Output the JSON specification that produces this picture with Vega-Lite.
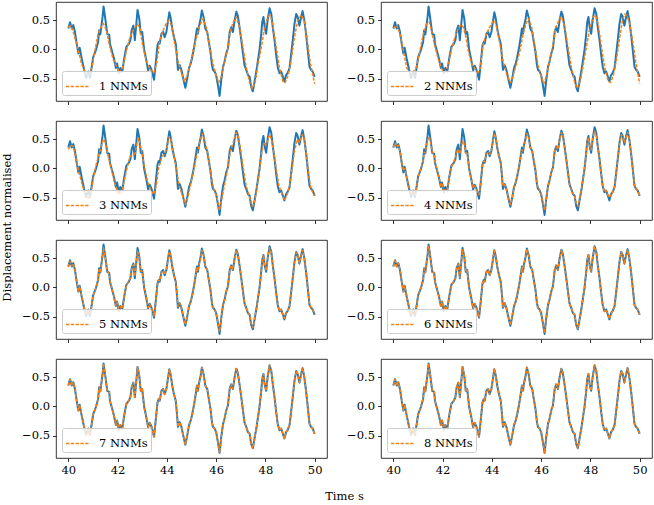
{
  "$schema": "https://vega.github.io/schema/vega-lite/v6.json",
  "background": "white",
  "padding": {"left": 0, "top": 1, "right": 0, "bottom": 0},
  "bounds": "flush",
  "columns": 2,
  "spacing": {"row": 20, "column": 54},
  "datasets": {
    "truth": [
      {"t":40.00,"v":0.36},{"t":40.07,"v":0.47},{"t":40.14,"v":0.36},{"t":40.20,"v":0.42},{"t":40.27,"v":0.30},{"t":40.34,"v":0.10},{"t":40.41,"v":-0.07},{"t":40.46,"v":0.03},{"t":40.54,"v":-0.15},{"t":40.64,"v":-0.35},{"t":40.72,"v":-0.49},{"t":40.81,"v":-0.38},{"t":40.88,"v":-0.49},{"t":40.95,"v":-0.30},{"t":41.01,"v":-0.13},{"t":41.12,"v":-0.01},{"t":41.21,"v":0.13},{"t":41.25,"v":0.33},{"t":41.30,"v":0.26},{"t":41.39,"v":0.56},{"t":41.43,"v":0.74},{"t":41.50,"v":0.53},{"t":41.58,"v":0.27},{"t":41.66,"v":0.25},{"t":41.69,"v":0.10},{"t":41.76,"v":-0.01},{"t":41.85,"v":-0.15},{"t":41.93,"v":-0.32},{"t":41.98,"v":-0.24},{"t":42.05,"v":-0.41},{"t":42.11,"v":-0.32},{"t":42.19,"v":-0.38},{"t":42.27,"v":-0.15},{"t":42.36,"v":0.05},{"t":42.46,"v":0.10},{"t":42.52,"v":0.16},{"t":42.57,"v":0.33},{"t":42.64,"v":0.41},{"t":42.70,"v":0.16},{"t":42.77,"v":0.49},{"t":42.81,"v":0.68},{"t":42.88,"v":0.53},{"t":42.94,"v":0.27},{"t":43.00,"v":0.30},{"t":43.08,"v":-0.01},{"t":43.15,"v":-0.15},{"t":43.24,"v":-0.36},{"t":43.30,"v":-0.28},{"t":43.37,"v":-0.34},{"t":43.48,"v":-0.52},{"t":43.55,"v":-0.23},{"t":43.62,"v":0.07},{"t":43.67,"v":0.13},{"t":43.71,"v":0.10},{"t":43.78,"v":0.27},{"t":43.85,"v":0.30},{"t":43.91,"v":0.21},{"t":43.98,"v":0.30},{"t":44.05,"v":0.50},{"t":44.10,"v":0.64},{"t":44.15,"v":0.55},{"t":44.23,"v":0.33},{"t":44.29,"v":0.21},{"t":44.36,"v":0.10},{"t":44.41,"v":-0.13},{"t":44.45,"v":-0.35},{"t":44.52,"v":-0.27},{"t":44.59,"v":-0.35},{"t":44.66,"v":-0.49},{"t":44.75,"v":-0.66},{"t":44.83,"v":-0.49},{"t":44.90,"v":-0.32},{"t":44.97,"v":-0.24},{"t":45.02,"v":-0.15},{"t":45.10,"v":0.02},{"t":45.17,"v":0.21},{"t":45.22,"v":0.36},{"t":45.26,"v":0.27},{"t":45.30,"v":0.39},{"t":45.37,"v":0.53},{"t":45.42,"v":0.67},{"t":45.49,"v":0.56},{"t":45.56,"v":0.36},{"t":45.64,"v":0.30},{"t":45.69,"v":0.16},{"t":45.77,"v":-0.04},{"t":45.83,"v":-0.27},{"t":45.87,"v":-0.35},{"t":45.94,"v":-0.38},{"t":46.00,"v":-0.44},{"t":46.07,"v":-0.61},{"t":46.14,"v":-0.80},{"t":46.21,"v":-0.52},{"t":46.28,"v":-0.30},{"t":46.34,"v":-0.21},{"t":46.41,"v":-0.07},{"t":46.48,"v":0.02},{"t":46.55,"v":0.30},{"t":46.61,"v":0.38},{"t":46.68,"v":0.30},{"t":46.75,"v":0.50},{"t":46.82,"v":0.65},{"t":46.88,"v":0.58},{"t":46.95,"v":0.38},{"t":47.02,"v":0.16},{"t":47.09,"v":-0.07},{"t":47.15,"v":-0.27},{"t":47.22,"v":-0.35},{"t":47.29,"v":-0.44},{"t":47.36,"v":-0.47},{"t":47.42,"v":-0.64},{"t":47.49,"v":-0.72},{"t":47.56,"v":-0.55},{"t":47.63,"v":-0.38},{"t":47.69,"v":-0.21},{"t":47.76,"v":-0.01},{"t":47.83,"v":0.27},{"t":47.87,"v":0.47},{"t":47.92,"v":0.56},{"t":47.97,"v":0.38},{"t":48.03,"v":0.27},{"t":48.09,"v":0.50},{"t":48.17,"v":0.71},{"t":48.24,"v":0.61},{"t":48.30,"v":0.38},{"t":48.37,"v":0.16},{"t":48.44,"v":-0.10},{"t":48.50,"v":-0.30},{"t":48.57,"v":-0.41},{"t":48.64,"v":-0.38},{"t":48.71,"v":-0.47},{"t":48.77,"v":-0.55},{"t":48.84,"v":-0.44},{"t":48.91,"v":-0.40},{"t":48.98,"v":-0.32},{"t":49.04,"v":-0.10},{"t":49.11,"v":0.16},{"t":49.18,"v":0.44},{"t":49.25,"v":0.61},{"t":49.31,"v":0.56},{"t":49.38,"v":0.41},{"t":49.45,"v":0.56},{"t":49.51,"v":0.66},{"t":49.58,"v":0.50},{"t":49.65,"v":0.27},{"t":49.72,"v":-0.01},{"t":49.79,"v":-0.30},{"t":49.85,"v":-0.35},{"t":49.92,"v":-0.38},{"t":50.00,"v":-0.47}
    ],
    "p1": [
      {"t":40.00,"v":0.38},{"t":40.10,"v":0.41},{"t":40.20,"v":0.30},{"t":40.34,"v":0.09},{"t":40.54,"v":-0.25},{"t":40.68,"v":-0.40},{"t":40.81,"v":-0.45},{"t":40.95,"v":-0.32},{"t":41.08,"v":-0.02},{"t":41.21,"v":0.27},{"t":41.35,"v":0.41},{"t":41.42,"v":0.45},{"t":41.55,"v":0.33},{"t":41.66,"v":0.09},{"t":41.82,"v":-0.17},{"t":41.98,"v":-0.31},{"t":42.09,"v":-0.40},{"t":42.22,"v":-0.29},{"t":42.36,"v":-0.02},{"t":42.50,"v":0.21},{"t":42.67,"v":0.36},{"t":42.80,"v":0.44},{"t":42.91,"v":0.36},{"t":43.01,"v":0.09},{"t":43.15,"v":-0.17},{"t":43.28,"v":-0.31},{"t":43.37,"v":-0.37},{"t":43.47,"v":-0.40},{"t":43.58,"v":-0.25},{"t":43.71,"v":0.15},{"t":43.85,"v":0.33},{"t":43.98,"v":0.45},{"t":44.08,"v":0.50},{"t":44.19,"v":0.41},{"t":44.32,"v":0.09},{"t":44.45,"v":-0.20},{"t":44.59,"v":-0.40},{"t":44.72,"v":-0.55},{"t":44.86,"v":-0.40},{"t":44.99,"v":-0.20},{"t":45.06,"v":-0.02},{"t":45.20,"v":0.21},{"t":45.33,"v":0.41},{"t":45.47,"v":0.53},{"t":45.60,"v":0.38},{"t":45.74,"v":0.03},{"t":45.87,"v":-0.25},{"t":46.01,"v":-0.46},{"t":46.11,"v":-0.57},{"t":46.21,"v":-0.46},{"t":46.34,"v":-0.20},{"t":46.48,"v":0.03},{"t":46.57,"v":0.30},{"t":46.68,"v":0.46},{"t":46.82,"v":0.56},{"t":46.95,"v":0.38},{"t":47.09,"v":0.03},{"t":47.22,"v":-0.31},{"t":47.36,"v":-0.57},{"t":47.47,"v":-0.67},{"t":47.59,"v":-0.55},{"t":47.69,"v":-0.28},{"t":47.83,"v":0.03},{"t":47.96,"v":0.36},{"t":48.10,"v":0.56},{"t":48.19,"v":0.59},{"t":48.29,"v":0.45},{"t":48.44,"v":0.03},{"t":48.57,"v":-0.31},{"t":48.71,"v":-0.55},{"t":48.80,"v":-0.57},{"t":48.91,"v":-0.46},{"t":49.04,"v":-0.20},{"t":49.18,"v":0.21},{"t":49.31,"v":0.50},{"t":49.45,"v":0.59},{"t":49.58,"v":0.50},{"t":49.72,"v":0.09},{"t":49.82,"v":-0.23},{"t":49.92,"v":-0.43},{"t":50.00,"v":-0.59}
    ],
    "p2": [
      {"t":40.00,"v":0.36},{"t":40.14,"v":0.42},{"t":40.27,"v":0.27},{"t":40.41,"v":-0.02},{"t":40.54,"v":-0.31},{"t":40.68,"v":-0.42},{"t":40.81,"v":-0.45},{"t":40.95,"v":-0.28},{"t":41.08,"v":-0.02},{"t":41.22,"v":0.27},{"t":41.35,"v":0.44},{"t":41.46,"v":0.47},{"t":41.55,"v":0.33},{"t":41.66,"v":0.10},{"t":41.82,"v":-0.16},{"t":41.96,"v":-0.33},{"t":42.09,"v":-0.39},{"t":42.23,"v":-0.28},{"t":42.36,"v":0.01},{"t":42.50,"v":0.21},{"t":42.63,"v":0.36},{"t":42.74,"v":0.42},{"t":42.84,"v":0.39},{"t":42.95,"v":0.21},{"t":43.04,"v":-0.02},{"t":43.18,"v":-0.25},{"t":43.31,"v":-0.33},{"t":43.45,"v":-0.39},{"t":43.52,"v":-0.33},{"t":43.65,"v":0.10},{"t":43.78,"v":0.27},{"t":43.92,"v":0.39},{"t":44.05,"v":0.49},{"t":44.12,"v":0.49},{"t":44.21,"v":0.36},{"t":44.35,"v":0.04},{"t":44.48,"v":-0.25},{"t":44.62,"v":-0.45},{"t":44.76,"v":-0.57},{"t":44.86,"v":-0.45},{"t":45.00,"v":-0.25},{"t":45.14,"v":-0.02},{"t":45.27,"v":0.27},{"t":45.41,"v":0.47},{"t":45.49,"v":0.53},{"t":45.61,"v":0.39},{"t":45.75,"v":0.04},{"t":45.88,"v":-0.28},{"t":46.02,"v":-0.48},{"t":46.11,"v":-0.59},{"t":46.22,"v":-0.45},{"t":46.35,"v":-0.19},{"t":46.49,"v":0.10},{"t":46.58,"v":0.36},{"t":46.69,"v":0.47},{"t":46.82,"v":0.56},{"t":46.96,"v":0.39},{"t":47.09,"v":0.04},{"t":47.23,"v":-0.31},{"t":47.36,"v":-0.57},{"t":47.47,"v":-0.67},{"t":47.59,"v":-0.54},{"t":47.70,"v":-0.28},{"t":47.84,"v":0.04},{"t":47.97,"v":0.36},{"t":48.11,"v":0.56},{"t":48.20,"v":0.59},{"t":48.31,"v":0.45},{"t":48.45,"v":0.04},{"t":48.58,"v":-0.31},{"t":48.72,"v":-0.54},{"t":48.82,"v":-0.57},{"t":48.93,"v":-0.45},{"t":49.05,"v":-0.19},{"t":49.19,"v":0.21},{"t":49.30,"v":0.50},{"t":49.39,"v":0.61},{"t":49.48,"v":0.59},{"t":49.59,"v":0.45},{"t":49.73,"v":0.10},{"t":49.84,"v":-0.21},{"t":49.93,"v":-0.42},{"t":50.00,"v":-0.59}
    ],
    "p3": [
      {"t":40.00,"v":0.33},{"t":40.10,"v":0.40},{"t":40.20,"v":0.38},{"t":40.32,"v":0.15},{"t":40.45,"v":-0.10},{"t":40.58,"v":-0.30},{"t":40.70,"v":-0.45},{"t":40.80,"v":-0.52},{"t":40.90,"v":-0.45},{"t":41.00,"v":-0.20},{"t":41.12,"v":0.05},{"t":41.28,"v":0.30},{"t":41.42,"v":0.50},{"t":41.50,"v":0.45},{"t":41.62,"v":0.20},{"t":41.72,"v":0.05},{"t":41.85,"v":-0.20},{"t":41.98,"v":-0.38},{"t":42.07,"v":-0.45},{"t":42.20,"v":-0.35},{"t":42.35,"v":-0.05},{"t":42.50,"v":0.20},{"t":42.62,"v":0.25},{"t":42.70,"v":0.25},{"t":42.80,"v":0.45},{"t":42.85,"v":0.52},{"t":42.95,"v":0.35},{"t":43.08,"v":0.05},{"t":43.20,"v":-0.20},{"t":43.32,"v":-0.35},{"t":43.45,"v":-0.45},{"t":43.57,"v":-0.30},{"t":43.66,"v":0.00},{"t":43.80,"v":0.20},{"t":43.90,"v":0.25},{"t":44.00,"v":0.35},{"t":44.10,"v":0.55},{"t":44.17,"v":0.50},{"t":44.28,"v":0.25},{"t":44.38,"v":0.00},{"t":44.50,"v":-0.30},{"t":44.62,"v":-0.45},{"t":44.75,"v":-0.62},{"t":44.85,"v":-0.50},{"t":44.95,"v":-0.30},{"t":45.05,"v":-0.10},{"t":45.17,"v":0.15},{"t":45.28,"v":0.35},{"t":45.40,"v":0.55},{"t":45.45,"v":0.60},{"t":45.56,"v":0.45},{"t":45.68,"v":0.20},{"t":45.78,"v":-0.10},{"t":45.90,"v":-0.35},{"t":46.03,"v":-0.50},{"t":46.13,"v":-0.72},{"t":46.22,"v":-0.55},{"t":46.33,"v":-0.30},{"t":46.47,"v":0.00},{"t":46.58,"v":0.30},{"t":46.70,"v":0.45},{"t":46.82,"v":0.62},{"t":46.90,"v":0.55},{"t":47.00,"v":0.30},{"t":47.10,"v":0.00},{"t":47.22,"v":-0.30},{"t":47.33,"v":-0.45},{"t":47.47,"v":-0.65},{"t":47.55,"v":-0.60},{"t":47.65,"v":-0.35},{"t":47.77,"v":0.00},{"t":47.86,"v":0.30},{"t":47.95,"v":0.45},{"t":48.02,"v":0.40},{"t":48.17,"v":0.58},{"t":48.25,"v":0.50},{"t":48.35,"v":0.25},{"t":48.45,"v":-0.05},{"t":48.55,"v":-0.30},{"t":48.68,"v":-0.45},{"t":48.78,"v":-0.55},{"t":48.88,"v":-0.45},{"t":48.98,"v":-0.30},{"t":49.08,"v":0.00},{"t":49.18,"v":0.30},{"t":49.30,"v":0.50},{"t":49.38,"v":0.45},{"t":49.50,"v":0.58},{"t":49.58,"v":0.50},{"t":49.68,"v":0.20},{"t":49.77,"v":-0.15},{"t":49.85,"v":-0.35},{"t":49.93,"v":-0.42},{"t":50.00,"v":-0.46}
    ],
    "p4": [
      {"t":40.00,"v":0.36},{"t":40.07,"v":0.44},{"t":40.14,"v":0.37},{"t":40.20,"v":0.40},{"t":40.27,"v":0.30},{"t":40.34,"v":0.12},{"t":40.41,"v":-0.04},{"t":40.46,"v":0.00},{"t":40.54,"v":-0.15},{"t":40.64,"v":-0.33},{"t":40.72,"v":-0.45},{"t":40.81,"v":-0.42},{"t":40.88,"v":-0.45},{"t":40.95,"v":-0.30},{"t":41.01,"v":-0.14},{"t":41.12,"v":0.00},{"t":41.21,"v":0.13},{"t":41.25,"v":0.28},{"t":41.30,"v":0.27},{"t":41.39,"v":0.48},{"t":41.45,"v":0.55},{"t":41.50,"v":0.48},{"t":41.58,"v":0.30},{"t":41.66,"v":0.22},{"t":41.69,"v":0.12},{"t":41.76,"v":0.00},{"t":41.85,"v":-0.15},{"t":41.93,"v":-0.30},{"t":41.98,"v":-0.27},{"t":42.05,"v":-0.42},{"t":42.11,"v":-0.35},{"t":42.19,"v":-0.36},{"t":42.27,"v":-0.15},{"t":42.36,"v":0.03},{"t":42.46,"v":0.12},{"t":42.52,"v":0.18},{"t":42.57,"v":0.28},{"t":42.64,"v":0.33},{"t":42.70,"v":0.25},{"t":42.77,"v":0.40},{"t":42.82,"v":0.47},{"t":42.88,"v":0.42},{"t":42.94,"v":0.28},{"t":43.00,"v":0.25},{"t":43.08,"v":0.00},{"t":43.15,"v":-0.15},{"t":43.24,"v":-0.33},{"t":43.30,"v":-0.30},{"t":43.37,"v":-0.35},{"t":43.48,"v":-0.45},{"t":43.55,"v":-0.25},{"t":43.62,"v":0.05},{"t":43.67,"v":0.13},{"t":43.71,"v":0.12},{"t":43.78,"v":0.25},{"t":43.85,"v":0.28},{"t":43.91,"v":0.24},{"t":43.98,"v":0.30},{"t":44.05,"v":0.48},{"t":44.10,"v":0.60},{"t":44.15,"v":0.55},{"t":44.23,"v":0.35},{"t":44.29,"v":0.22},{"t":44.36,"v":0.10},{"t":44.41,"v":-0.10},{"t":44.45,"v":-0.30},{"t":44.52,"v":-0.28},{"t":44.59,"v":-0.36},{"t":44.66,"v":-0.48},{"t":44.75,"v":-0.62},{"t":44.83,"v":-0.50},{"t":44.90,"v":-0.33},{"t":44.97,"v":-0.24},{"t":45.02,"v":-0.15},{"t":45.10,"v":0.02},{"t":45.17,"v":0.20},{"t":45.22,"v":0.32},{"t":45.26,"v":0.30},{"t":45.30,"v":0.37},{"t":45.37,"v":0.50},{"t":45.42,"v":0.60},{"t":45.49,"v":0.55},{"t":45.56,"v":0.38},{"t":45.64,"v":0.30},{"t":45.69,"v":0.17},{"t":45.77,"v":-0.03},{"t":45.83,"v":-0.25},{"t":45.87,"v":-0.33},{"t":45.94,"v":-0.37},{"t":46.00,"v":-0.44},{"t":46.07,"v":-0.58},{"t":46.14,"v":-0.72},{"t":46.21,"v":-0.52},{"t":46.28,"v":-0.30},{"t":46.34,"v":-0.21},{"t":46.41,"v":-0.07},{"t":46.48,"v":0.03},{"t":46.55,"v":0.30},{"t":46.61,"v":0.37},{"t":46.68,"v":0.33},{"t":46.75,"v":0.50},{"t":46.82,"v":0.62},{"t":46.88,"v":0.57},{"t":46.95,"v":0.38},{"t":47.02,"v":0.16},{"t":47.09,"v":-0.07},{"t":47.15,"v":-0.26},{"t":47.22,"v":-0.35},{"t":47.29,"v":-0.43},{"t":47.36,"v":-0.47},{"t":47.42,"v":-0.60},{"t":47.49,"v":-0.65},{"t":47.56,"v":-0.53},{"t":47.63,"v":-0.37},{"t":47.69,"v":-0.21},{"t":47.76,"v":0.00},{"t":47.83,"v":0.27},{"t":47.87,"v":0.44},{"t":47.92,"v":0.52},{"t":47.97,"v":0.40},{"t":48.03,"v":0.32},{"t":48.09,"v":0.50},{"t":48.17,"v":0.64},{"t":48.24,"v":0.58},{"t":48.30,"v":0.38},{"t":48.37,"v":0.16},{"t":48.44,"v":-0.10},{"t":48.50,"v":-0.30},{"t":48.57,"v":-0.40},{"t":48.64,"v":-0.38},{"t":48.71,"v":-0.46},{"t":48.77,"v":-0.50},{"t":48.84,"v":-0.44},{"t":48.91,"v":-0.40},{"t":48.98,"v":-0.32},{"t":49.04,"v":-0.10},{"t":49.11,"v":0.16},{"t":49.18,"v":0.42},{"t":49.25,"v":0.58},{"t":49.31,"v":0.55},{"t":49.38,"v":0.45},{"t":49.45,"v":0.55},{"t":49.51,"v":0.62},{"t":49.58,"v":0.50},{"t":49.65,"v":0.27},{"t":49.72,"v":0.00},{"t":49.79,"v":-0.28},{"t":49.85,"v":-0.35},{"t":49.92,"v":-0.39},{"t":50.00,"v":-0.46}
    ],
    "p5": [
      {"t":40.00,"v":0.35},{"t":40.07,"v":0.45},{"t":40.14,"v":0.37},{"t":40.20,"v":0.41},{"t":40.27,"v":0.30},{"t":40.34,"v":0.11},{"t":40.41,"v":-0.06},{"t":40.46,"v":0.02},{"t":40.54,"v":-0.15},{"t":40.64,"v":-0.34},{"t":40.72,"v":-0.47},{"t":40.81,"v":-0.39},{"t":40.88,"v":-0.47},{"t":40.95,"v":-0.30},{"t":41.01,"v":-0.13},{"t":41.12,"v":-0.01},{"t":41.21,"v":0.13},{"t":41.25,"v":0.31},{"t":41.30,"v":0.27},{"t":41.39,"v":0.53},{"t":41.43,"v":0.68},{"t":41.50,"v":0.52},{"t":41.58,"v":0.28},{"t":41.66,"v":0.24},{"t":41.69,"v":0.11},{"t":41.76,"v":-0.01},{"t":41.85,"v":-0.15},{"t":41.93,"v":-0.31},{"t":41.98,"v":-0.25},{"t":42.05,"v":-0.41},{"t":42.11,"v":-0.33},{"t":42.19,"v":-0.37},{"t":42.27,"v":-0.15},{"t":42.36,"v":0.04},{"t":42.46,"v":0.11},{"t":42.52,"v":0.17},{"t":42.57,"v":0.32},{"t":42.64,"v":0.39},{"t":42.70,"v":0.19},{"t":42.77,"v":0.46},{"t":42.81,"v":0.62},{"t":42.88,"v":0.51},{"t":42.94,"v":0.28},{"t":43.00,"v":0.28},{"t":43.08,"v":-0.01},{"t":43.15,"v":-0.15},{"t":43.24,"v":-0.35},{"t":43.30,"v":-0.29},{"t":43.37,"v":-0.34},{"t":43.48,"v":-0.49},{"t":43.55,"v":-0.24},{"t":43.62,"v":0.06},{"t":43.67,"v":0.13},{"t":43.71,"v":0.11},{"t":43.78,"v":0.26},{"t":43.85,"v":0.29},{"t":43.91,"v":0.22},{"t":43.98,"v":0.30},{"t":44.05,"v":0.49},{"t":44.10,"v":0.62},{"t":44.15,"v":0.55},{"t":44.23,"v":0.34},{"t":44.29,"v":0.21},{"t":44.36,"v":0.10},{"t":44.41,"v":-0.12},{"t":44.45,"v":-0.33},{"t":44.52,"v":-0.27},{"t":44.59,"v":-0.35},{"t":44.66,"v":-0.49},{"t":44.75,"v":-0.64},{"t":44.83,"v":-0.49},{"t":44.90,"v":-0.32},{"t":44.97,"v":-0.24},{"t":45.02,"v":-0.15},{"t":45.10,"v":0.02},{"t":45.17,"v":0.21},{"t":45.22,"v":0.34},{"t":45.26,"v":0.28},{"t":45.30,"v":0.38},{"t":45.37,"v":0.52},{"t":45.42,"v":0.64},{"t":45.49,"v":0.56},{"t":45.56,"v":0.37},{"t":45.64,"v":0.30},{"t":45.69,"v":0.16},{"t":45.77,"v":-0.04},{"t":45.83,"v":-0.26},{"t":45.87,"v":-0.34},{"t":45.94,"v":-0.38},{"t":46.00,"v":-0.44},{"t":46.07,"v":-0.60},{"t":46.14,"v":-0.76},{"t":46.21,"v":-0.52},{"t":46.28,"v":-0.30},{"t":46.34,"v":-0.21},{"t":46.41,"v":-0.07},{"t":46.48,"v":0.02},{"t":46.55,"v":0.30},{"t":46.61,"v":0.38},{"t":46.68,"v":0.31},{"t":46.75,"v":0.50},{"t":46.82,"v":0.64},{"t":46.88,"v":0.58},{"t":46.95,"v":0.38},{"t":47.02,"v":0.16},{"t":47.09,"v":-0.07},{"t":47.15,"v":-0.27},{"t":47.22,"v":-0.35},{"t":47.29,"v":-0.44},{"t":47.36,"v":-0.47},{"t":47.42,"v":-0.62},{"t":47.49,"v":-0.69},{"t":47.56,"v":-0.55},{"t":47.63,"v":-0.38},{"t":47.69,"v":-0.21},{"t":47.76,"v":-0.01},{"t":47.83,"v":0.27},{"t":47.87,"v":0.46},{"t":47.92,"v":0.55},{"t":47.97,"v":0.39},{"t":48.03,"v":0.29},{"t":48.09,"v":0.50},{"t":48.17,"v":0.68},{"t":48.24,"v":0.60},{"t":48.30,"v":0.38},{"t":48.37,"v":0.16},{"t":48.44,"v":-0.10},{"t":48.50,"v":-0.30},{"t":48.57,"v":-0.41},{"t":48.64,"v":-0.38},{"t":48.71,"v":-0.47},{"t":48.77,"v":-0.53},{"t":48.84,"v":-0.44},{"t":48.91,"v":-0.40},{"t":48.98,"v":-0.32},{"t":49.04,"v":-0.10},{"t":49.11,"v":0.16},{"t":49.18,"v":0.43},{"t":49.25,"v":0.60},{"t":49.31,"v":0.56},{"t":49.38,"v":0.42},{"t":49.45,"v":0.56},{"t":49.51,"v":0.64},{"t":49.58,"v":0.50},{"t":49.65,"v":0.27},{"t":49.72,"v":-0.01},{"t":49.79,"v":-0.29},{"t":49.85,"v":-0.35},{"t":49.92,"v":-0.38},{"t":50.00,"v":-0.46}
    ],
    "p6": [
      {"t":40.00,"v":0.36},{"t":40.07,"v":0.46},{"t":40.14,"v":0.36},{"t":40.20,"v":0.42},{"t":40.27,"v":0.30},{"t":40.34,"v":0.10},{"t":40.41,"v":-0.07},{"t":40.46,"v":0.03},{"t":40.54,"v":-0.15},{"t":40.64,"v":-0.35},{"t":40.72,"v":-0.48},{"t":40.81,"v":-0.38},{"t":40.88,"v":-0.48},{"t":40.95,"v":-0.30},{"t":41.01,"v":-0.13},{"t":41.12,"v":-0.01},{"t":41.21,"v":0.13},{"t":41.25,"v":0.32},{"t":41.30,"v":0.26},{"t":41.39,"v":0.55},{"t":41.43,"v":0.71},{"t":41.50,"v":0.53},{"t":41.58,"v":0.27},{"t":41.66,"v":0.25},{"t":41.69,"v":0.10},{"t":41.76,"v":-0.01},{"t":41.85,"v":-0.15},{"t":41.93,"v":-0.32},{"t":41.98,"v":-0.24},{"t":42.05,"v":-0.41},{"t":42.11,"v":-0.32},{"t":42.19,"v":-0.38},{"t":42.27,"v":-0.15},{"t":42.36,"v":0.05},{"t":42.46,"v":0.10},{"t":42.52,"v":0.16},{"t":42.57,"v":0.33},{"t":42.64,"v":0.40},{"t":42.70,"v":0.17},{"t":42.77,"v":0.48},{"t":42.81,"v":0.65},{"t":42.88,"v":0.53},{"t":42.94,"v":0.27},{"t":43.00,"v":0.29},{"t":43.08,"v":-0.01},{"t":43.15,"v":-0.15},{"t":43.24,"v":-0.36},{"t":43.30,"v":-0.28},{"t":43.37,"v":-0.34},{"t":43.48,"v":-0.51},{"t":43.55,"v":-0.23},{"t":43.62,"v":0.07},{"t":43.67,"v":0.13},{"t":43.71,"v":0.10},{"t":43.78,"v":0.27},{"t":43.85,"v":0.30},{"t":43.91,"v":0.21},{"t":43.98,"v":0.30},{"t":44.05,"v":0.50},{"t":44.10,"v":0.63},{"t":44.15,"v":0.55},{"t":44.23,"v":0.33},{"t":44.29,"v":0.21},{"t":44.36,"v":0.10},{"t":44.41,"v":-0.13},{"t":44.45,"v":-0.34},{"t":44.52,"v":-0.27},{"t":44.59,"v":-0.35},{"t":44.66,"v":-0.49},{"t":44.75,"v":-0.65},{"t":44.83,"v":-0.49},{"t":44.90,"v":-0.32},{"t":44.97,"v":-0.24},{"t":45.02,"v":-0.15},{"t":45.10,"v":0.02},{"t":45.17,"v":0.21},{"t":45.22,"v":0.35},{"t":45.26,"v":0.27},{"t":45.30,"v":0.39},{"t":45.37,"v":0.53},{"t":45.42,"v":0.66},{"t":45.49,"v":0.56},{"t":45.56,"v":0.36},{"t":45.64,"v":0.30},{"t":45.69,"v":0.16},{"t":45.77,"v":-0.04},{"t":45.83,"v":-0.27},{"t":45.87,"v":-0.35},{"t":45.94,"v":-0.38},{"t":46.00,"v":-0.44},{"t":46.07,"v":-0.61},{"t":46.14,"v":-0.78},{"t":46.21,"v":-0.52},{"t":46.28,"v":-0.30},{"t":46.34,"v":-0.21},{"t":46.41,"v":-0.07},{"t":46.48,"v":0.02},{"t":46.55,"v":0.30},{"t":46.61,"v":0.38},{"t":46.68,"v":0.30},{"t":46.75,"v":0.50},{"t":46.82,"v":0.65},{"t":46.88,"v":0.58},{"t":46.95,"v":0.38},{"t":47.02,"v":0.16},{"t":47.09,"v":-0.07},{"t":47.15,"v":-0.27},{"t":47.22,"v":-0.35},{"t":47.29,"v":-0.44},{"t":47.36,"v":-0.47},{"t":47.42,"v":-0.63},{"t":47.49,"v":-0.71},{"t":47.56,"v":-0.55},{"t":47.63,"v":-0.38},{"t":47.69,"v":-0.21},{"t":47.76,"v":-0.01},{"t":47.83,"v":0.27},{"t":47.87,"v":0.47},{"t":47.92,"v":0.56},{"t":47.97,"v":0.38},{"t":48.03,"v":0.28},{"t":48.09,"v":0.50},{"t":48.17,"v":0.70},{"t":48.24,"v":0.61},{"t":48.30,"v":0.38},{"t":48.37,"v":0.16},{"t":48.44,"v":-0.10},{"t":48.50,"v":-0.30},{"t":48.57,"v":-0.41},{"t":48.64,"v":-0.38},{"t":48.71,"v":-0.47},{"t":48.77,"v":-0.54},{"t":48.84,"v":-0.44},{"t":48.91,"v":-0.40},{"t":48.98,"v":-0.32},{"t":49.04,"v":-0.10},{"t":49.11,"v":0.16},{"t":49.18,"v":0.44},{"t":49.25,"v":0.61},{"t":49.31,"v":0.56},{"t":49.38,"v":0.41},{"t":49.45,"v":0.56},{"t":49.51,"v":0.65},{"t":49.58,"v":0.50},{"t":49.65,"v":0.27},{"t":49.72,"v":-0.01},{"t":49.79,"v":-0.30},{"t":49.85,"v":-0.35},{"t":49.92,"v":-0.38},{"t":50.00,"v":-0.47}
    ]
  },
  "resolve": {"scale": {"color": "independent"}, "legend": {"color": "independent"}},
  "concat": [
    {
      "width": 271, "height": 99,
      "layer": [
        {"data": {"name": "truth"}, "mark": {"type": "line", "color": "#1f77b4", "strokeWidth": 2},
         "encoding": {
           "x": {"field": "t", "type": "quantitative", "scale": {"domain": [39.5, 50.5], "nice": false, "zero": false}, "axis": {"values": [40, 42, 44, 46, 48, 50], "format": "d", "labels": false, "title": null}},
           "y": {"field": "v", "type": "quantitative", "scale": {"domain": [-0.887, 0.817], "nice": false, "zero": false}, "axis": {"values": [-0.5, 0, 0.5], "format": ".1f", "title": null}}}},
        {"data": {"name": "p1"}, "mark": {"type": "line", "strokeWidth": 1.5, "strokeDash": [3.3, 1.5]},
         "encoding": {"x": {"field": "t", "type": "quantitative"}, "y": {"field": "v", "type": "quantitative"},
           "color": {"datum": "1 NNMs", "type": "nominal", "scale": {"range": ["#ff7f0e"]}, "legend": {"title": null, "orient": "bottom-left"}}}}
      ]
    },
    {
      "width": 271, "height": 99,
      "layer": [
        {"data": {"name": "truth"}, "mark": {"type": "line", "color": "#1f77b4", "strokeWidth": 2},
         "encoding": {
           "x": {"field": "t", "type": "quantitative", "scale": {"domain": [39.5, 50.5], "nice": false, "zero": false}, "axis": {"values": [40, 42, 44, 46, 48, 50], "format": "d", "labels": false, "title": null}},
           "y": {"field": "v", "type": "quantitative", "scale": {"domain": [-0.887, 0.817], "nice": false, "zero": false}, "axis": {"values": [-0.5, 0, 0.5], "format": ".1f", "title": null}}}},
        {"data": {"name": "p2"}, "mark": {"type": "line", "strokeWidth": 1.5, "strokeDash": [3.3, 1.5]},
         "encoding": {"x": {"field": "t", "type": "quantitative"}, "y": {"field": "v", "type": "quantitative"},
           "color": {"datum": "2 NNMs", "type": "nominal", "scale": {"range": ["#ff7f0e"]}, "legend": {"title": null, "orient": "bottom-left"}}}}
      ]
    },
    {
      "width": 271, "height": 99,
      "layer": [
        {"data": {"name": "truth"}, "mark": {"type": "line", "color": "#1f77b4", "strokeWidth": 2},
         "encoding": {
           "x": {"field": "t", "type": "quantitative", "scale": {"domain": [39.5, 50.5], "nice": false, "zero": false}, "axis": {"values": [40, 42, 44, 46, 48, 50], "format": "d", "labels": false, "title": null}},
           "y": {"field": "v", "type": "quantitative", "scale": {"domain": [-0.887, 0.817], "nice": false, "zero": false}, "axis": {"values": [-0.5, 0, 0.5], "format": ".1f", "title": "Displacement normalised", "titleX": -44, "titleY": 106, "titleAngle": 270, "titleAlign": "center", "titleBaseline": "bottom"}}}},
        {"data": {"name": "p3"}, "mark": {"type": "line", "strokeWidth": 1.5, "strokeDash": [3.3, 1.5]},
         "encoding": {"x": {"field": "t", "type": "quantitative"}, "y": {"field": "v", "type": "quantitative"},
           "color": {"datum": "3 NNMs", "type": "nominal", "scale": {"range": ["#ff7f0e"]}, "legend": {"title": null, "orient": "bottom-left"}}}}
      ]
    },
    {
      "width": 271, "height": 99,
      "layer": [
        {"data": {"name": "truth"}, "mark": {"type": "line", "color": "#1f77b4", "strokeWidth": 2},
         "encoding": {
           "x": {"field": "t", "type": "quantitative", "scale": {"domain": [39.5, 50.5], "nice": false, "zero": false}, "axis": {"values": [40, 42, 44, 46, 48, 50], "format": "d", "labels": false, "title": null}},
           "y": {"field": "v", "type": "quantitative", "scale": {"domain": [-0.887, 0.817], "nice": false, "zero": false}, "axis": {"values": [-0.5, 0, 0.5], "format": ".1f", "title": null}}}},
        {"data": {"name": "p4"}, "mark": {"type": "line", "strokeWidth": 1.5, "strokeDash": [3.3, 1.5]},
         "encoding": {"x": {"field": "t", "type": "quantitative"}, "y": {"field": "v", "type": "quantitative"},
           "color": {"datum": "4 NNMs", "type": "nominal", "scale": {"range": ["#ff7f0e"]}, "legend": {"title": null, "orient": "bottom-left"}}}}
      ]
    },
    {
      "width": 271, "height": 99,
      "layer": [
        {"data": {"name": "truth"}, "mark": {"type": "line", "color": "#1f77b4", "strokeWidth": 2},
         "encoding": {
           "x": {"field": "t", "type": "quantitative", "scale": {"domain": [39.5, 50.5], "nice": false, "zero": false}, "axis": {"values": [40, 42, 44, 46, 48, 50], "format": "d", "labels": false, "title": null}},
           "y": {"field": "v", "type": "quantitative", "scale": {"domain": [-0.887, 0.817], "nice": false, "zero": false}, "axis": {"values": [-0.5, 0, 0.5], "format": ".1f", "title": null}}}},
        {"data": {"name": "p5"}, "mark": {"type": "line", "strokeWidth": 1.5, "strokeDash": [3.3, 1.5]},
         "encoding": {"x": {"field": "t", "type": "quantitative"}, "y": {"field": "v", "type": "quantitative"},
           "color": {"datum": "5 NNMs", "type": "nominal", "scale": {"range": ["#ff7f0e"]}, "legend": {"title": null, "orient": "bottom-left"}}}}
      ]
    },
    {
      "width": 271, "height": 99,
      "layer": [
        {"data": {"name": "truth"}, "mark": {"type": "line", "color": "#1f77b4", "strokeWidth": 2},
         "encoding": {
           "x": {"field": "t", "type": "quantitative", "scale": {"domain": [39.5, 50.5], "nice": false, "zero": false}, "axis": {"values": [40, 42, 44, 46, 48, 50], "format": "d", "labels": false, "title": null}},
           "y": {"field": "v", "type": "quantitative", "scale": {"domain": [-0.887, 0.817], "nice": false, "zero": false}, "axis": {"values": [-0.5, 0, 0.5], "format": ".1f", "title": null}}}},
        {"data": {"name": "p6"}, "mark": {"type": "line", "strokeWidth": 1.5, "strokeDash": [3.3, 1.5]},
         "encoding": {"x": {"field": "t", "type": "quantitative"}, "y": {"field": "v", "type": "quantitative"},
           "color": {"datum": "6 NNMs", "type": "nominal", "scale": {"range": ["#ff7f0e"]}, "legend": {"title": null, "orient": "bottom-left"}}}}
      ]
    },
    {
      "width": 271, "height": 99,
      "layer": [
        {"data": {"name": "truth"}, "mark": {"type": "line", "color": "#1f77b4", "strokeWidth": 2},
         "encoding": {
           "x": {"field": "t", "type": "quantitative", "scale": {"domain": [39.5, 50.5], "nice": false, "zero": false}, "axis": {"values": [40, 42, 44, 46, 48, 50], "format": "d", "title": "Time s", "titleX": 288, "titleY": 32, "titleAlign": "center", "titleBaseline": "top"}},
           "y": {"field": "v", "type": "quantitative", "scale": {"domain": [-0.887, 0.817], "nice": false, "zero": false}, "axis": {"values": [-0.5, 0, 0.5], "format": ".1f", "title": null}}}},
        {"data": {"name": "truth"}, "mark": {"type": "line", "strokeWidth": 1.5, "strokeDash": [3.3, 1.5]},
         "encoding": {"x": {"field": "t", "type": "quantitative"}, "y": {"field": "v", "type": "quantitative"},
           "color": {"datum": "7 NNMs", "type": "nominal", "scale": {"range": ["#ff7f0e"]}, "legend": {"title": null, "orient": "bottom-left"}}}}
      ]
    },
    {
      "width": 271, "height": 99,
      "layer": [
        {"data": {"name": "truth"}, "mark": {"type": "line", "color": "#1f77b4", "strokeWidth": 2},
         "encoding": {
           "x": {"field": "t", "type": "quantitative", "scale": {"domain": [39.5, 50.5], "nice": false, "zero": false}, "axis": {"values": [40, 42, 44, 46, 48, 50], "format": "d", "title": null}},
           "y": {"field": "v", "type": "quantitative", "scale": {"domain": [-0.887, 0.817], "nice": false, "zero": false}, "axis": {"values": [-0.5, 0, 0.5], "format": ".1f", "title": null}}}},
        {"data": {"name": "truth"}, "mark": {"type": "line", "strokeWidth": 1.5, "strokeDash": [3.3, 1.5]},
         "encoding": {"x": {"field": "t", "type": "quantitative"}, "y": {"field": "v", "type": "quantitative"},
           "color": {"datum": "8 NNMs", "type": "nominal", "scale": {"range": ["#ff7f0e"]}, "legend": {"title": null, "orient": "bottom-left"}}}}
      ]
    }
  ],
  "config": {
    "font": "DejaVu Serif",
    "view": {"stroke": "black", "strokeWidth": 0.8},
    "axis": {
      "domain": false, "grid": false,
      "tickColor": "black", "tickSize": 3.5, "tickWidth": 0.8,
      "labelFont": "DejaVu Serif", "labelFontSize": 11.5, "labelColor": "black", "labelPadding": 3,
      "titleFont": "DejaVu Serif", "titleFontSize": 11.5, "titleFontWeight": "normal", "titleColor": "black"
    },
    "legend": {
      "offset": 6, "padding": 3, "fillColor": "rgba(255,255,255,0.8)", "strokeColor": "#cccccc", "cornerRadius": 2,
      "symbolType": "stroke", "symbolSize": 529, "symbolStrokeWidth": 1.5, "symbolDash": [3.3, 1.5],
      "labelFont": "DejaVu Serif", "labelFontSize": 11.5, "labelColor": "black", "labelOffset": 9
    },
    "line": {"strokeCap": "butt", "strokeJoin": "round"}
  }
}
